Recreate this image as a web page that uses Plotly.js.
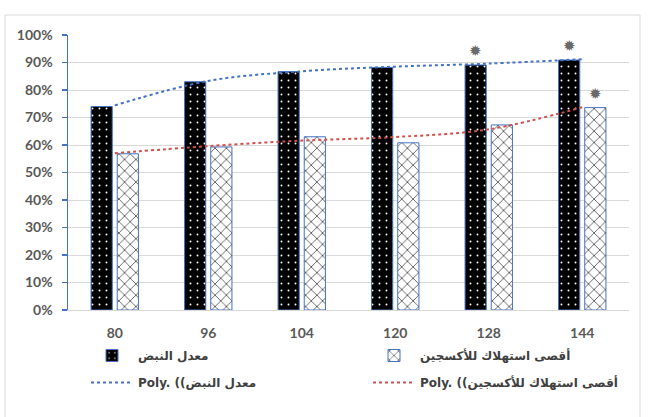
<!DOCTYPE html>
<html>
<head>
<meta charset="utf-8">
<script src="https://cdn.plot.ly/plotly-3.0.1.min.js"></script>
<style>
html,body{margin:0;padding:0;background:#fff;}
#chart{width:649px;height:417px;}
</style>
</head>
<body>
<div id="chart"></div>
<script>
// ---- data ----
const categories = ['80', '96', '104', '120', '128', '144'];
const pulseRate = [74, 83, 86.7, 88.2, 89.1, 90.9];          // معدل النبض
const maxOxygen = [56.8, 59.3, 63.0, 60.8, 67.3, 73.6];       // أقصى استهلاك للأكسجين
const pulseTrend = [74.4, 83.3, 86.8, 88.5, 89.6, 91.2];      // Poly. trend
const oxygenTrend = [57.0, 59.6, 61.6, 62.9, 65.7, 73.7];     // Poly. trend
const pulseStars = ['128', '144'];
const oxygenStars = ['144'];

const nameP = 'معدل النبض';
const nameO = 'أقصى استهلاك للأكسجين';
const nameTP = 'Poly. ((' + nameP;
const nameTO = 'Poly. ((' + nameO;

const font = 'Lato, "DejaVu Sans", sans-serif';
const blue = '#4472C4';

const traces = [
  {
    type: 'bar', name: nameP, x: categories, y: pulseRate, legend: 'legend', legendgroup: 'a',
    marker: {
      color: '#000',
      line: {color: blue, width: 1},
      pattern: {shape: '.', bgcolor: '#000', fgcolor: '#ffffff', size: 7, solidity: 0.06, fillmode: 'replace'}
    }
  },
  {
    type: 'bar', name: nameO, x: categories, y: maxOxygen, legend: 'legend2', legendgroup: 'b',
    marker: {
      color: '#fff',
      line: {color: blue, width: 1},
      pattern: {shape: 'x', bgcolor: '#ffffff', fgcolor: '#000', size: 8, solidity: 0.14, fillmode: 'replace'}
    }
  },
  {
    type: 'scatter', mode: 'lines', name: nameTP, x: categories, y: pulseTrend, legend: 'legend', legendgroup: 'c',
    line: {color: blue, width: 2, dash: 'dot', shape: 'spline', smoothing: 1}
  },
  {
    type: 'scatter', mode: 'lines', name: nameTO, x: categories, y: oxygenTrend, legend: 'legend2', legendgroup: 'd',
    line: {color: '#D0504A', width: 2, dash: 'dot', shape: 'spline', smoothing: 1}
  }
];

const annotations = [];
function addStars(list, values, shift) {
  list.forEach(c => {
    const i = categories.indexOf(c);
    annotations.push({
      x: i, y: values[i], xref: 'x', yref: 'y', xshift: shift, yshift: 3,
      yanchor: 'bottom', showarrow: false, text: '✹',
      font: {family: '"DejaVu Sans", sans-serif', size: 15, color: '#6a6a6a'}
    });
  });
}
addStars(pulseStars, pulseRate, -13);
addStars(oxygenStars, maxOxygen, 13);

const legendFont = {family: '"DejaVu Sans", sans-serif', size: 12, color: '#404040', weight: 'bold'};
function legendAt(px) {
  return {
    orientation: 'v', x: (px - 68) / 561, xanchor: 'left', xref: 'paper',
    y: -(341 - 310) / 275, yanchor: 'top', yref: 'paper',
    itemwidth: 42, tracegroupgap: 8, traceorder: 'grouped',
    bgcolor: 'rgba(0,0,0,0)', font: legendFont
  };
}

const layout = {
  width: 649, height: 417,
  margin: {l: 68, r: 20, t: 35, b: 107},
  paper_bgcolor: '#fff', plot_bgcolor: '#fff',
  font: {family: font, color: '#595959'},
  barmode: 'group', bargap: 0.44, bargroupgap: 0.19,
  showlegend: true,
  legend: legendAt(86),
  legend2: legendAt(368),
  xaxis: {
    type: 'category', range: [-0.5, 5.5], showgrid: false, showline: true, linecolor: '#d9d9d9', linewidth: 1,
    ticks: '', ticklabelstandoff: 10, tickangle: 0,
    tickfont: {family: font, size: 14, color: '#595959', weight: 'bold'},
    fixedrange: true
  },
  yaxis: {
    range: [0, 100], dtick: 10, ticksuffix: '%',
    showgrid: true, gridcolor: '#d9d9d9', gridwidth: 1, zeroline: false,
    showline: true, linecolor: blue, linewidth: 1.5,
    ticks: 'outside', ticklen: 5, tickcolor: blue, tickwidth: 1.5,
    ticklabelstandoff: 6,
    tickfont: {family: font, size: 14, color: '#595959', weight: 'bold'},
    fixedrange: true
  },
  annotations: annotations,
  shapes: [
    {type: 'rect', xref: 'paper', yref: 'paper',
     x0: -63/561, x1: 572/561, y0: -112/275, y1: 295/275,
     line: {color: '#d9d9d9', width: 1}, fillcolor: 'rgba(0,0,0,0)', layer: 'below'}
  ]
};

Plotly.newPlot('chart', traces, layout, {displayModeBar: false, staticPlot: true});
</script>
</body>
</html>
